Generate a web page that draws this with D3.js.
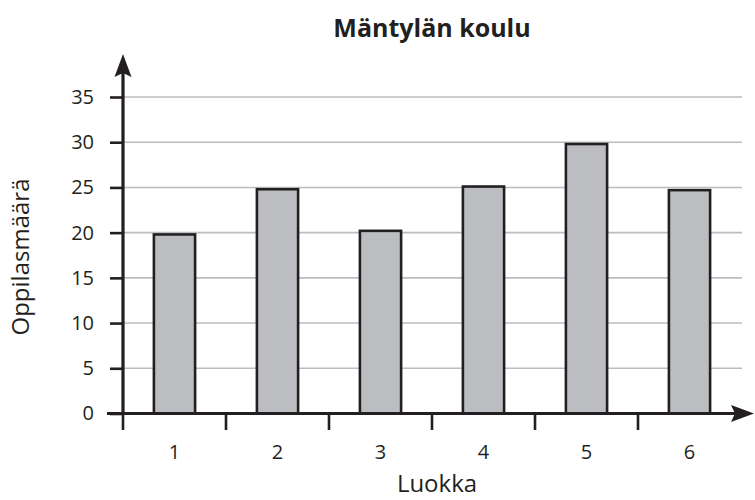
<!DOCTYPE html>
<html><head><meta charset="utf-8">
<script src="https://cdn.jsdelivr.net/npm/d3@7"></script>
<style>body{margin:0;background:#fff}svg{display:block}text{font-family:"Open Sans",sans-serif;fill:#231f20}</style>
</head><body><svg id="c" width="755" height="500"></svg>
<script>
const title = "Mäntylän koulu";
const xTitle = "Luokka";
const yTitle = "Oppilasmäärä";
const categories = ["1","2","3","4","5","6"];
const values = [19.8, 24.8, 20.2, 25.1, 29.8, 24.7];
const yTicks = [0,5,10,15,20,25,30,35];

const svg = d3.select("#c");
const ink = "#231f20";
const x = d3.scaleBand().domain(categories).range([123, 741]).padding(0);
const y = d3.scaleLinear().domain([0,35]).range([413.5, 97]);

// gridlines
svg.append("g").selectAll("line").data(yTicks.filter(d=>d>0)).join("line")
  .attr("x1",123).attr("x2",742).attr("y1",d=>y(d)).attr("y2",d=>y(d))
  .attr("stroke","#bcbdc0").attr("stroke-width",1.6);

// bars
const bw = x.bandwidth()*0.4;
svg.append("g").selectAll("rect").data(values).join("rect")
  .attr("x",(d,i)=>x(categories[i])+x.bandwidth()/2-bw/2)
  .attr("width",bw)
  .attr("y",d=>y(d)).attr("height",d=>y(0)-y(d))
  .attr("fill","#bcbdc0").attr("stroke",ink).attr("stroke-width",2.6);

// y axis
const yAxis = d3.axisLeft(y).tickValues(yTicks).tickSize(13).tickPadding(16);
const gy = svg.append("g").attr("transform","translate(123,0)").call(yAxis)
  .attr("font-size",20).attr("font-family","Open Sans, sans-serif");
gy.select(".domain").remove();
gy.selectAll(".tick line").attr("stroke",ink).attr("stroke-width",2.6);
gy.selectAll(".tick text").attr("font-size",20).attr("fill",ink);

// x axis
const xAxis = d3.axisBottom(x).tickSize(0).tickPadding(31);
const gx = svg.append("g").attr("transform","translate(0,413.5)").call(xAxis)
  .attr("font-size",20).attr("font-family","Open Sans, sans-serif");
gx.select(".domain").remove();
gx.selectAll(".tick text").attr("font-size",20).attr("fill",ink);
// band boundary ticks
svg.append("g").selectAll("line").data(categories).join("line")
  .attr("x1",d=>x(d)).attr("x2",d=>x(d)).attr("y1",413.5).attr("y2",430)
  .attr("stroke",ink).attr("stroke-width",2.6);

// axis lines with arrows
svg.append("line").attr("x1",123).attr("x2",123).attr("y1",414).attr("y2",70)
  .attr("stroke",ink).attr("stroke-width",3.2);
svg.append("path").attr("d","M123,54 L131.5,77 L123,73 L114.5,77 Z").attr("fill",ink);
svg.append("line").attr("x1",107).attr("x2",738).attr("y1",413.5).attr("y2",413.5)
  .attr("stroke",ink).attr("stroke-width",3.2);
svg.append("path").attr("d","M754,413.5 L731,405 L735,413.5 L731,422 Z").attr("fill",ink);

// titles
svg.append("text").attr("x",432).attr("y",37).attr("text-anchor","middle")
  .attr("font-size",25).attr("font-weight","bold").text(title);
svg.append("text").attr("x",437).attr("y",492).attr("text-anchor","middle")
  .attr("font-size",24).text(xTitle);
svg.append("text").attr("transform","translate(29,257) rotate(-90)").attr("text-anchor","middle")
  .attr("font-size",24).text(yTitle);
</script></body></html>
